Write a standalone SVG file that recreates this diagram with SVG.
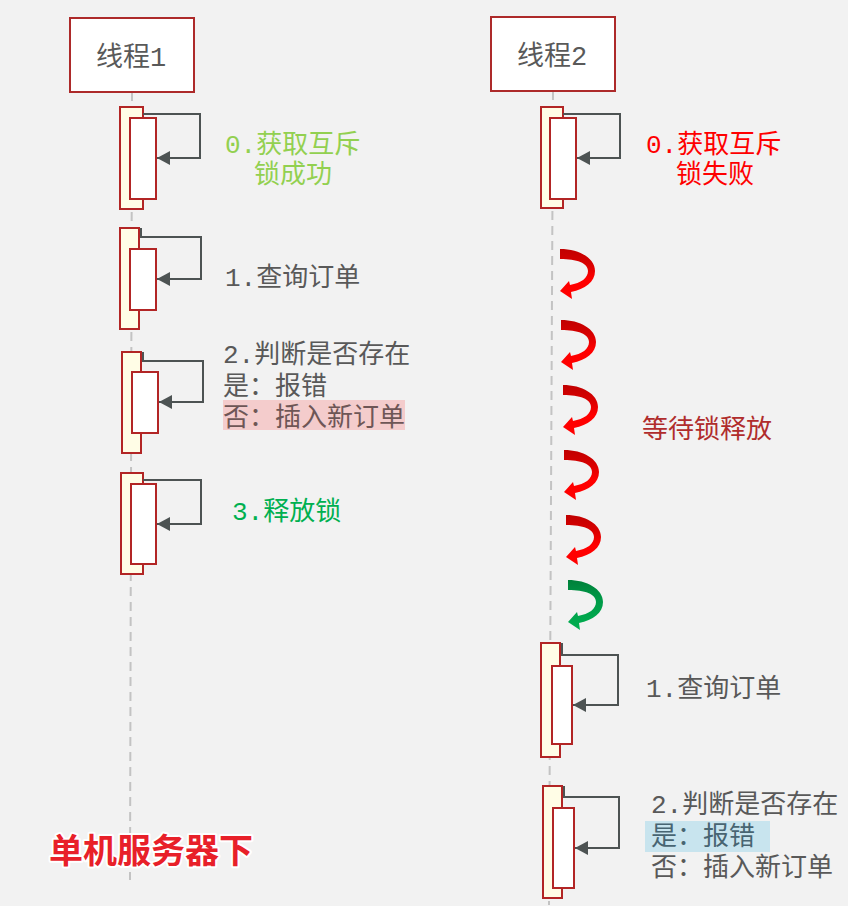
<svg xmlns="http://www.w3.org/2000/svg" width="848" height="906" viewBox="0 0 848 906">
<style>
.bg{fill:#f2f2f2}
.head{fill:#ffffff;stroke:#ad2a2a;stroke-width:2}
.life{stroke:#c3c3c3;stroke-width:2;stroke-dasharray:9 6;fill:none}
.outer{fill:#fffde6;stroke:#b22525;stroke-width:2}
.inner{fill:#ffffff;stroke:#b22525;stroke-width:2}
.conn{fill:none;stroke:#4d5353;stroke-width:2}
.t{font-family:"Liberation Mono","Noto Sans CJK SC",monospace;font-size:26px}
.title{font-family:"Liberation Mono","Noto Sans CJK SC",monospace;font-size:27px;fill:#595959;text-anchor:middle}
.gray{fill:#595959}
.big{font-family:"Noto Sans CJK SC",sans-serif;font-weight:bold;font-size:34px;fill:#e82029;stroke:#ffffff;stroke-width:4;paint-order:stroke;stroke-linejoin:round}
</style>
<defs>
<marker id="ah" markerUnits="userSpaceOnUse" markerWidth="14" markerHeight="14" refX="13" refY="7" orient="auto">
<path d="M0,0 L13,7 L0,14 Z" fill="#4d5353"/>
</marker>
<linearGradient id="rg" x1="0" y1="0" x2="0" y2="1">
<stop offset="0" stop-color="#c00000"/>
<stop offset="0.3" stop-color="#d80000"/>
<stop offset="0.6" stop-color="#ff0000"/>
<stop offset="1" stop-color="#ff0000"/>
</linearGradient>
<linearGradient id="gg" x1="0" y1="0" x2="0" y2="1">
<stop offset="0" stop-color="#00803a"/>
<stop offset="0.4" stop-color="#009a48"/>
<stop offset="1" stop-color="#00b050"/>
</linearGradient>
<path id="curl" d="M0,0 C19,0 35,9 35,22 C35,33 25,40 11,43 L12,50 L0,42 L9,32 L10,36 C21,34 28,29 28,22 C28,14 17,10 0,10 Z"/>
</defs>
<rect class="bg" x="0" y="0" width="848" height="906"/>

<g id="lifelines">
<line class="life" x1="132" y1="92" x2="130" y2="880"/>
<line class="life" x1="553" y1="91" x2="549" y2="905"/>
</g>

<g id="thread1">
<rect class="head" x="70" y="18" width="124" height="74"/>
<text class="title" x="131" y="66">线程1</text>
</g>
<g id="thread2">
<rect class="head" x="491" y="17" width="124" height="74"/>
<text class="title" x="552" y="65">线程2</text>
</g>

<g id="t1-step0">
<rect class="outer" x="120" y="107" width="23" height="102"/>
<rect class="inner" x="130" y="118" width="26" height="81"/>
<text class="t" x="225" y="153" fill="#92d050">0.获取互斥</text>
<text class="t" x="293" y="183" fill="#92d050" text-anchor="middle">锁成功</text>
</g>
<g id="t1-step1">
<rect class="outer" x="120" y="228" width="19" height="101"/>
<rect class="inner" x="130" y="249" width="26" height="61"/>
<text class="t gray" x="225" y="286">1.查询订单</text>
</g>
<g id="t1-step2">
<rect class="outer" x="122" y="352" width="19" height="101"/>
<rect class="inner" x="132" y="372" width="26" height="61"/>
<text class="t gray" x="223" y="363">2.判断是否存在</text>
<text class="t gray" x="223" y="395">是：报错</text>
<rect x="223" y="400" width="182" height="30" fill="#f4cccc"/>
<text class="t" x="223" y="426" fill="#6e5656">否：插入新订单</text>
</g>
<g id="t1-step3">
<rect class="outer" x="121" y="473" width="22" height="101"/>
<rect class="inner" x="131" y="484" width="25" height="80"/>
<text class="t" x="232" y="520" fill="#00b050">3.释放锁</text>
</g>

<g id="t2-step0">
<rect class="outer" x="541" y="107" width="22" height="101"/>
<rect class="inner" x="550" y="118" width="26" height="81"/>
<text class="t" x="646" y="153" fill="#ff0000">0.获取互斥</text>
<text class="t" x="715" y="183" fill="#ff0000" text-anchor="middle">锁失败</text>
</g>
<g id="t2-wait">
<use href="#curl" x="560" y="249" fill="url(#rg)"/>
<use href="#curl" x="561" y="320" fill="url(#rg)"/>
<use href="#curl" x="563" y="385" fill="url(#rg)"/>
<use href="#curl" x="564" y="450" fill="url(#rg)"/>
<use href="#curl" x="566" y="515" fill="url(#rg)"/>
<use href="#curl" x="568" y="580" fill="url(#gg)"/>
<text x="642" y="438" font-family="Noto Sans CJK SC, sans-serif" font-size="26" fill="#b02c2c">等待锁释放</text>
</g>
<g id="t2-step1">
<rect class="outer" x="541" y="643" width="19" height="114"/>
<rect class="inner" x="552" y="666" width="20" height="78"/>
<text class="t gray" x="646" y="697">1.查询订单</text>
</g>
<g id="t2-step2">
<rect class="outer" x="543" y="786" width="19" height="112"/>
<rect class="inner" x="553" y="808" width="21" height="80"/>
<text class="t gray" x="651" y="813">2.判断是否存在</text>
<rect x="645" y="821" width="125" height="31" fill="#c8e4ee"/>
<text class="t" x="651" y="845" fill="#486572">是：报错</text>
<text class="t gray" x="651" y="876">否：插入新订单</text>
</g>

<g id="connectors">
<path class="conn" d="M143,114 H200 V158 H157" marker-end="url(#ah)"/>
<path class="conn" d="M141,228 V237 H201 V279 H157" marker-end="url(#ah)"/>
<path class="conn" d="M143,352 V361 H203 V402 H159" marker-end="url(#ah)"/>
<path class="conn" d="M143,480 H201 V524 H157" marker-end="url(#ah)"/>
<path class="conn" d="M563,114 H620 V158 H577" marker-end="url(#ah)"/>
<path class="conn" d="M562,643 V655 H618 V705 H573" marker-end="url(#ah)"/>
<path class="conn" d="M564,786 V797 H619 V848 H575" marker-end="url(#ah)"/>
</g>

<text class="big" x="49" y="863">单机服务器下</text>
</svg>
